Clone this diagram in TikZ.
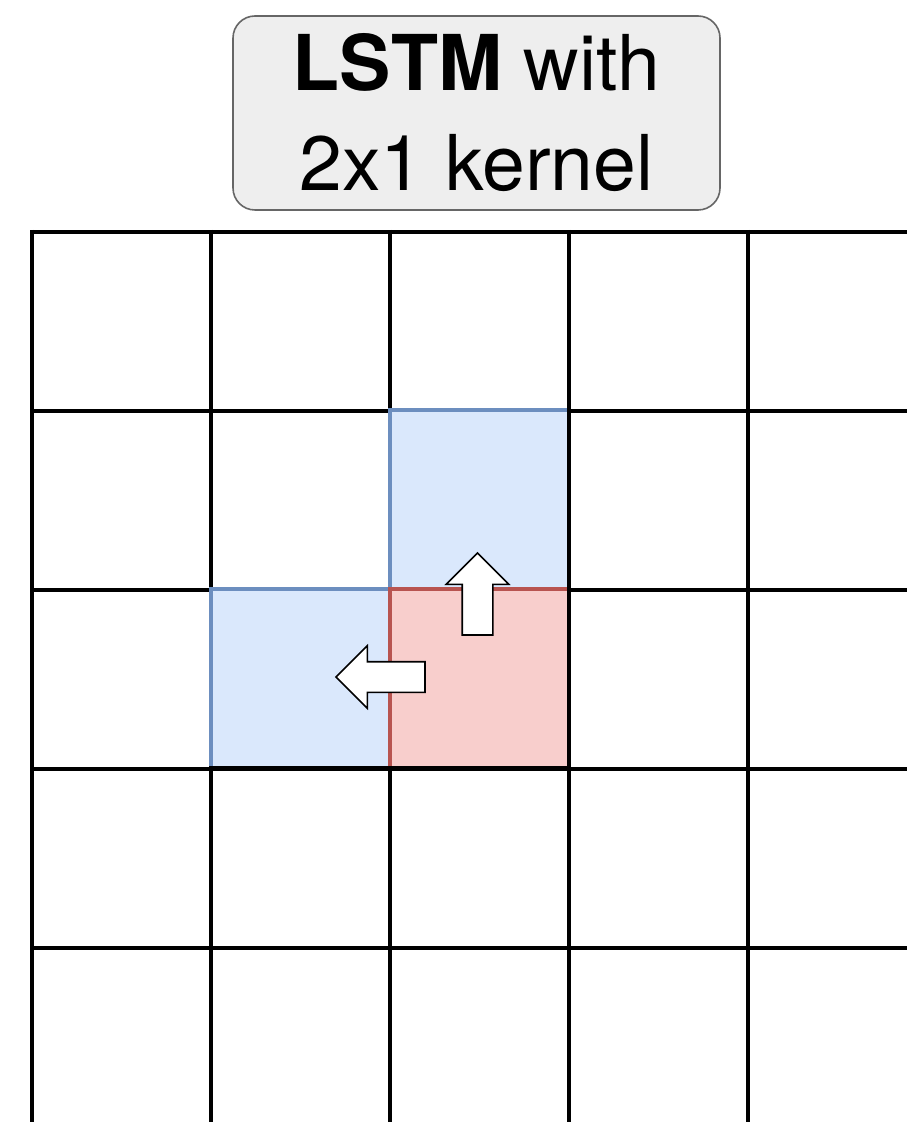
\documentclass[tikz,border=0pt]{standalone}
\usepackage{fontspec}
\setmainfont{TeX Gyre Heros}
\usetikzlibrary{shapes.arrows}
\definecolor{cellblue}{HTML}{DAE8FC}
\definecolor{edgeblue}{HTML}{6C8EBF}
\definecolor{cellred}{HTML}{F8CECC}
\definecolor{edgered}{HTML}{B85450}
\definecolor{boxgray}{HTML}{EEEEEE}
\definecolor{boxedge}{HTML}{666666}
\begin{document}
\begin{tikzpicture}[
    x=0.5pt, y=-0.5pt,
    gridline/.style={draw=black, line width=2.3pt},
    cell/.style={minimum size=89.5pt, inner sep=0pt, outer sep=0pt, line width=1.7pt},
    bluecell/.style={cell, fill=cellblue, draw=edgeblue},
    redcell/.style={cell, fill=cellred, draw=edgered},
    move/.style={single arrow, draw=black, fill=white, line width=0.8pt,
                 inner sep=7.25pt, single arrow head extend=8pt,
                 outer sep=0pt, anchor=tip},
    titlebox/.style={draw=boxedge, fill=boxgray, rounded corners=11pt, line width=0.8pt,
                     minimum width=243.5pt, minimum height=97pt, align=center,
                     font=\fontsize{38.5}{50}\selectfont},
  ]
  \useasboundingbox (0,0) rectangle (907,1122);
  % title
  \node[titlebox] (title) at (476.5,113) {\textbf{LSTM} with\\2x1 kernel};
  % grid
  \begin{scope}
    \clip (0,0) rectangle (907,1122);
    \foreach \i in {0,...,5} {
      \draw[gridline] (32+179*\i,230) -- (32+179*\i,1122);
      \draw[gridline] (30,232+179*\i) -- (907,232+179*\i);
    }
  \end{scope}
  % kernel cells
  \node[bluecell] (up)   at (479.5,499.5) {};
  \node[bluecell] (left) at (300.5,678.5) {};
  \node[redcell]  (cur)  at (479.5,678.5) {};
  \draw[gridline] ([yshift=1pt]up.north east) -- ([yshift=-1pt]cur.south east);
  \draw[gridline] ([xshift=-1pt]left.south west) -- ([xshift=1pt]cur.south east);
  % scan directions
  \node[move, shape border rotate=90, minimum height=41pt]    (goup)   at (477.5,553) {};
  \node[move, shape border rotate=180, minimum height=44.5pt] (goleft) at (336,677) {};
\end{tikzpicture}
\end{document}
